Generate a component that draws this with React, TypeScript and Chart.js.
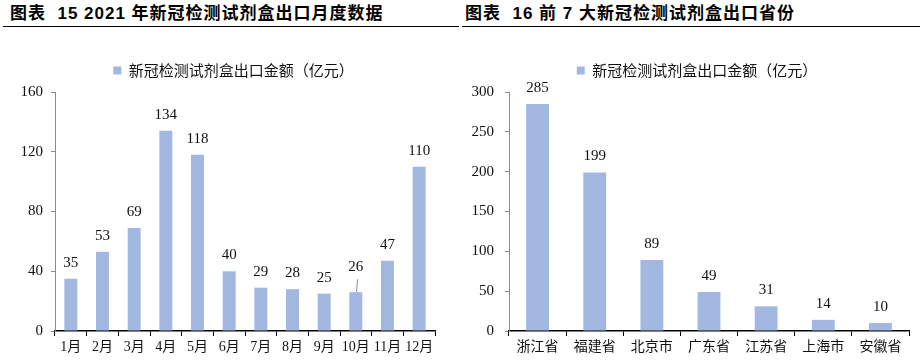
import React, { useEffect, useRef } from 'react';
import { Chart, registerables } from 'chart.js';

Chart.register(...registerables);

// ---- data ----
const seriesName = '新冠检测试剂盒出口金额（亿元）';

const monthLabels = ['1月', '2月', '3月', '4月', '5月', '6月', '7月', '8月', '9月', '10月', '11月', '12月'];
const monthValues = [35, 53, 69, 134, 118, 40, 29, 28, 25, 26, 47, 110];
const monthAxisMax = 160;
const monthAxisStep = 40;

const provinceLabels = ['浙江省', '福建省', '北京市', '广东省', '江苏省', '上海市', '安徽省'];
const provinceValues = [285, 199, 89, 49, 31, 14, 10];
const provinceAxisMax = 300;
const provinceAxisStep = 50;

const title15 = '图表  15 2021 年新冠检测试剂盒出口月度数据';
const title16 = '图表  16 前 7 大新冠检测试剂盒出口省份';

// ---- styles ----
const BAR_COLOR = '#A3B8E1';
const TEXT_COLOR = '#111111';
const NUM_FONT = '"Liberation Serif", "Noto Sans CJK SC", serif';

const valueLabelsPlugin = {
  id: 'valueLabels',
  afterDatasetsDraw(chart: any, _args: any, opts: any) {
    const { ctx } = chart;
    const meta = chart.getDatasetMeta(0);
    const data = chart.data.datasets[0].data as number[];
    const leaders: number[] = (opts && opts.leaders) || [];
    ctx.save();
    ctx.font = `15px ${NUM_FONT}`;
    ctx.fillStyle = TEXT_COLOR;
    ctx.textAlign = 'center';
    ctx.textBaseline = 'middle';
    meta.data.forEach((bar: any, i: number) => {
      const lead = leaders.includes(i);
      const y = bar.y - (lead ? 25 : 16);
      ctx.fillText(String(data[i]), bar.x, y);
      if (lead) {
        ctx.strokeStyle = '#8c8c8c';
        ctx.lineWidth = 1;
        ctx.beginPath();
        ctx.moveTo(Math.round(bar.x) + 0.5, bar.y);
        ctx.lineTo(Math.round(bar.x) + 1.5, bar.y - 13);
        ctx.stroke();
      }
    });
    ctx.restore();
  },
};

const legendSizePlugin = {
  id: 'legendSize',
  beforeInit(chart: any, _args: any, opts: any) {
    const legend = chart.legend;
    if (!legend) return;
    const orig = legend.fit;
    legend.fit = function () {
      orig.call(this);
      this.height = opts.height;
    };
  },
  afterLayout(chart: any, _args: any, opts: any) {
    const legend = chart.legend;
    if (!legend) return;
    legend.left += opts.shift;
    legend.right += opts.shift;
  },
};

type PanelProps = {
  labels: string[];
  values: number[];
  max: number;
  step: number;
  yWidth: number;
  padRight: number;
  yLabelPad: number;
  barPct: number;
  leaders: number[];
  legendShift: number;
};

function BarPanel(p: PanelProps) {
  const ref = useRef<HTMLCanvasElement | null>(null);
  useEffect(() => {
    if (!ref.current) return;
    const chart = new Chart(ref.current, {
      type: 'bar',
      data: {
        labels: p.labels,
        datasets: [
          {
            label: seriesName,
            data: p.values,
            backgroundColor: BAR_COLOR,
            borderWidth: 0,
            categoryPercentage: 1,
            barPercentage: p.barPct,
          },
        ],
      },
      options: {
        responsive: false,
        animation: false,
        layout: { padding: { top: 25, left: 0, right: p.padRight, bottom: 0 } },
        plugins: {
          tooltip: { enabled: false },
          legend: {
            display: true,
            position: 'top',
            align: 'center',
            labels: {
              boxWidth: 8,
              boxHeight: 8,
              padding: 8,
              color: TEXT_COLOR,
              font: { size: 15, family: '"Noto Sans CJK SC", sans-serif' },
            },
          },
          legendSize: { height: 37, shift: p.legendShift },
          valueLabels: { leaders: p.leaders },
        } as any,
        scales: {
          x: {
            offset: true,
            grid: {
              display: true,
              drawOnChartArea: false,
              drawTicks: true,
              tickLength: 5,
              color: '#000000',
              lineWidth: 1,
            },
            border: { display: true, color: '#000000', width: 1.5 },
            ticks: {
              autoSkip: false,
              maxRotation: 0,
              minRotation: 0,
              padding: 3,
              color: TEXT_COLOR,
              font: { size: 14, family: NUM_FONT },
            },
            afterFit: (scale: any) => {
              scale.height = 29;
            },
          },
          y: {
            min: 0,
            max: p.max,
            grid: {
              display: true,
              drawOnChartArea: false,
              drawTicks: true,
              tickLength: 4,
              color: '#8c8c8c',
            },
            border: { display: true, color: '#8c8c8c', width: 1 },
            ticks: {
              stepSize: p.step,
              padding: p.yLabelPad,
              color: TEXT_COLOR,
              font: { size: 15, family: NUM_FONT },
            },
            afterFit: (scale: any) => {
              scale.width = p.yWidth;
            },
          },
        },
      } as any,
      plugins: [valueLabelsPlugin, legendSizePlugin],
    });
    return () => chart.destroy();
  }, []);
  return <canvas ref={ref} width={461} height={330} style={{ display: 'block', width: 461, height: 330 }} />;
}

const titleStyle: React.CSSProperties = {
  position: 'absolute',
  top: 3,
  whiteSpace: 'pre',
  font: 'bold 17px "Liberation Sans", "Noto Sans CJK SC", sans-serif',
  letterSpacing: '1px',
  color: '#000',
  lineHeight: '22px',
};

export default function App() {
  return (
    <div style={{ position: 'absolute', left: 0, top: 0, width: 922, height: 360, background: '#fff', overflow: 'hidden' }}>
      <div style={{ ...titleStyle, left: 10 }}>{title15}</div>
      <div style={{ ...titleStyle, left: 465 }}>{title16}</div>
      <div style={{ position: 'absolute', left: 3, top: 26, width: 456, height: 0, borderTop: '1.5px solid #000' }} />
      <div style={{ position: 'absolute', left: 462, top: 26, width: 458, height: 0, borderTop: '1.5px solid #000' }} />
      <div style={{ position: 'absolute', left: 0, top: 30 }}>
        <BarPanel
          labels={monthLabels}
          values={monthValues}
          max={monthAxisMax}
          step={monthAxisStep}
          yWidth={55}
          padRight={26}
          yLabelPad={8}
          barPct={0.41}
          leaders={[9]}
          legendShift={16}
        />
      </div>
      <div style={{ position: 'absolute', left: 461, top: 30 }}>
        <BarPanel
          labels={provinceLabels}
          values={provinceValues}
          max={provinceAxisMax}
          step={provinceAxisStep}
          yWidth={48}
          padRight={13}
          yLabelPad={11}
          barPct={0.4}
          leaders={[]}
          legendShift={12}
        />
      </div>
    </div>
  );
}
